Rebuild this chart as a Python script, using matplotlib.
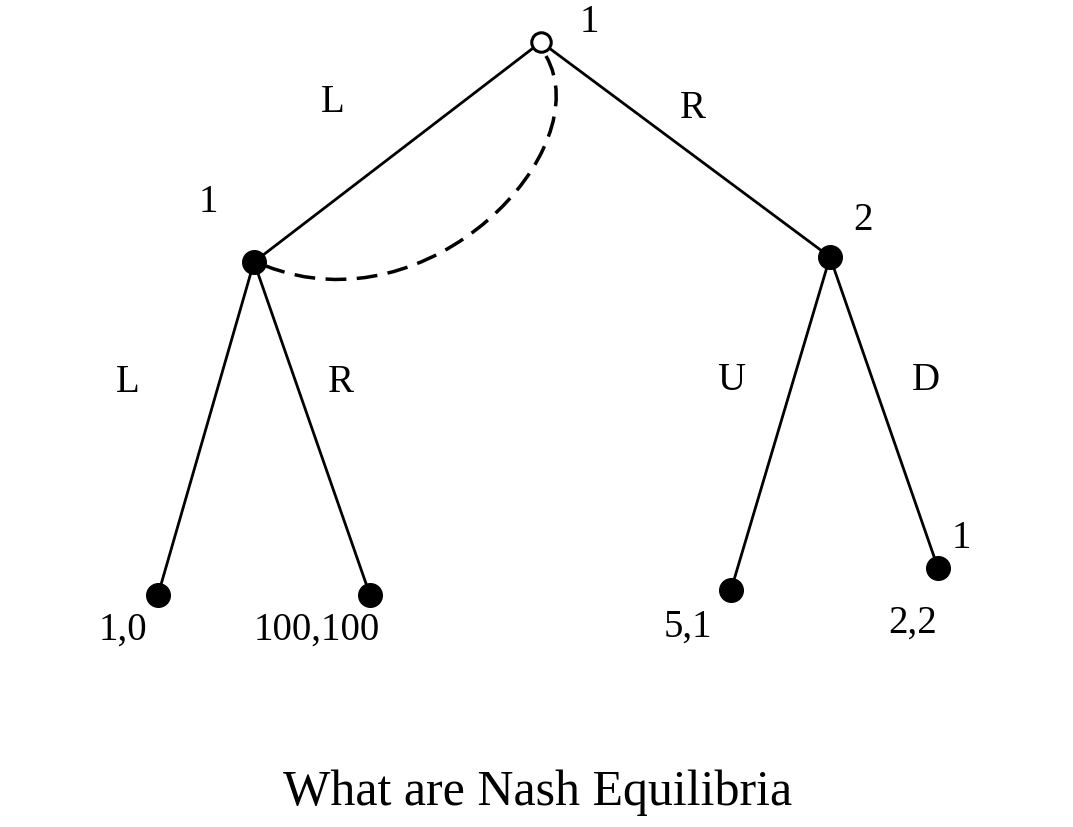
import matplotlib
matplotlib.use("Agg")
import matplotlib.pyplot as plt
from matplotlib.path import Path
from matplotlib.patches import PathPatch

# node positions (pixel space of the reference)
nodes = {"root": (541, 42), "A": (254, 262), "B": (830, 257),
         "LL": (158, 595), "LR": (370, 595), "RU": (731, 590), "RD": (938, 568)}
edges = [("root", "A"), ("root", "B"), ("A", "LL"), ("A", "LR"), ("B", "RU"), ("B", "RD")]
edge_labels = [("L", 333, 103), ("R", 693, 108), ("L", 128, 382), ("R", 341, 382),
               ("U", 731, 380), ("D", 926, 380)]
player_labels = [("1", 589, 22), ("1", 208, 202), ("2", 863, 220), ("1", 961, 538)]
payoffs = [("1,0", 123, 630), ("100,100", 317, 630), ("5,1", 688, 627), ("2,2", 913, 623)]
title = "What are Nash Equilibria"

fig = plt.figure(figsize=(10.73, 8.27), dpi=100)
ax = fig.add_axes([0, 0, 1, 1])
ax.set_xlim(0, 1073); ax.set_ylim(827, 0); ax.axis("off")
font = "Liberation Serif"

for a, b in edges:
    (x1, y1), (x2, y2) = nodes[a], nodes[b]
    ax.plot([x1, x2], [y1, y2], color="black", lw=2, zorder=1)

for k, (x, y) in nodes.items():
    if k == "root":
        ax.plot(x, y, "o", ms=14, mfc="white", mec="black", mew=2.2, zorder=3)
    else:
        ax.plot(x, y, "o", ms=17, color="black", zorder=3)

verts = [(546, 56), (600, 150), (430, 330), (266, 266)]
path = Path(verts, [Path.MOVETO, Path.CURVE4, Path.CURVE4, Path.CURVE4])
ax.add_patch(PathPatch(path, fill=False, lw=2.5, ls=(0, (6, 3)), color="black", zorder=2))

for t, x, y in edge_labels + player_labels + payoffs:
    ax.text(x, y, t, fontsize=28, family=font, ha="center", va="center")
ax.text(538, 793, title, fontsize=36, family=font, ha="center", va="center")

fig.savefig("out.png", dpi=100)
